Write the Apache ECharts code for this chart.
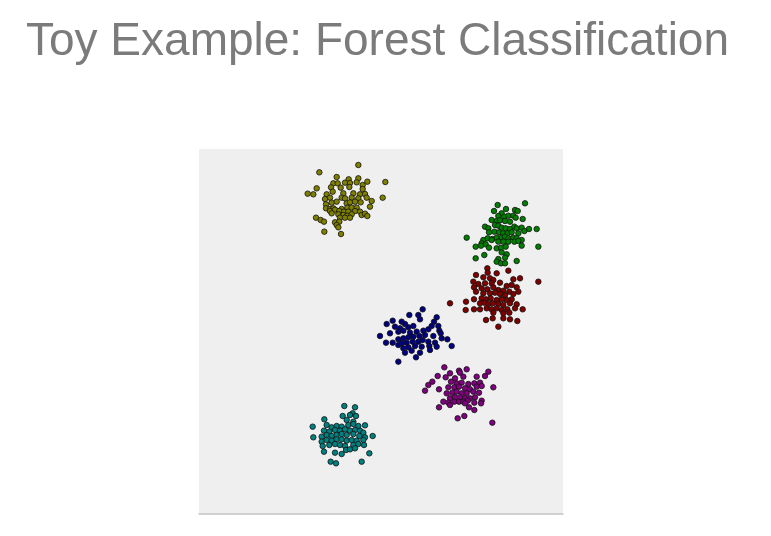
<!DOCTYPE html>
<html>
<head>
<meta charset="utf-8">
<script src="https://cdn.jsdelivr.net/npm/echarts@6/dist/echarts.min.js"></script>
<style>
html,body{margin:0;padding:0;background:#fff;}
#chart{width:771px;height:536px;}
</style>
</head>
<body>
<div id="chart"></div>
<script>
var titleText = 'Toy Example: Forest Classification';
var classNames = ['Class 1', 'Class 2', 'Class 3', 'Class 4', 'Class 5', 'Class 6'];
var classColors = ['#808000', '#008000', '#800000', '#000080', '#800080', '#008080'];

var olive = [[478,1047],[361,1025],[413,1011],[478,1007],[449,1004],[403,992],[416,992],[438,994],[453,993],[473,995],[491,987],[505,997],[559,996],[353,977],[396,980],[425,979],[451,981],[491,975],[326,961],[343,959],[383,959],[401,967],[433,962],[463,962],[483,959],[498,960],[378,945],[393,949],[428,949],[438,947],[458,949],[478,947],[503,949],[518,939],[551,949],[381,929],[398,934],[413,937],[443,932],[453,935],[468,937],[485,935],[381,917],[393,915],[403,917],[428,915],[445,919],[458,919],[473,919],[513,922],[393,909],[408,913],[421,909],[435,907],[448,907],[468,909],[483,907],[398,902],[418,899],[433,897],[445,895],[458,899],[488,897],[498,901],[505,894],[423,889],[438,889],[453,889],[351,889],[365,882],[375,877],[408,875],[421,877],[413,867],[418,860],[376,847],[426,840]];

var green = [[978,932],[896,927],[921,915],[948,912],[956,909],[885,909],[908,902],[898,894],[916,892],[928,895],[943,895],[950,889],[971,885],[878,882],[893,879],[903,881],[918,879],[933,877],[858,862],[868,857],[888,867],[898,865],[908,859],[920,857],[933,855],[946,862],[953,857],[968,859],[990,855],[1013,855],[976,849],[870,845],[886,847],[900,845],[913,842],[926,842],[938,845],[958,842],[803,829],[853,822],[866,827],[880,825],[893,829],[908,829],[918,832],[928,827],[943,829],[953,827],[968,822],[848,812],[860,809],[878,822],[898,817],[913,817],[928,817],[946,817],[958,819],[830,802],[846,805],[870,799],[893,797],[906,799],[920,802],[968,805],[1018,802],[908,785],[923,779],[856,777],[830,767],[898,765],[918,769],[953,759],[893,757],[906,752],[918,752]];

var maroon = [[865,737],[866,724],[928,730],[893,722],[831,717],[853,710],[873,707],[883,702],[943,704],[963,707],[1018,697],[823,697],[838,690],[858,692],[878,692],[903,694],[923,684],[938,687],[953,680],[825,680],[848,677],[865,674],[883,680],[898,672],[913,670],[931,667],[958,667],[831,667],[853,662],[873,662],[888,664],[903,660],[918,657],[943,660],[801,637],[825,644],[848,647],[861,644],[875,647],[893,642],[908,644],[923,642],[938,644],[800,612],[843,632],[856,634],[868,630],[881,632],[898,630],[913,627],[933,632],[953,629],[825,614],[843,614],[863,617],[878,614],[893,617],[908,612],[925,614],[948,617],[971,614],[883,604],[913,602],[931,604],[753,632],[861,582],[881,587],[913,587],[933,584],[955,579],[898,562]];

var navy = [[671,614],[631,597],[658,597],[581,580],[563,570],[608,577],[713,590],[705,577],[618,570],[663,584],[588,562],[603,557],[628,560],[643,564],[698,564],[718,564],[543,534],[573,542],[598,547],[613,550],[633,544],[653,547],[673,550],[688,554],[721,550],[725,542],[561,514],[581,514],[598,524],[613,527],[628,530],[643,532],[661,534],[678,537],[703,534],[728,527],[745,524],[598,507],[608,512],[623,514],[641,517],[658,517],[671,522],[688,517],[708,514],[613,497],[628,500],[648,504],[668,502],[691,504],[713,502],[758,504],[618,484],[638,490],[663,484],[693,492],[651,470],[598,457]];

var purple = [[736,440],[780,430],[803,434],[716,414],[753,422],[783,424],[868,427],[700,397],[688,387],[740,410],[768,407],[793,412],[833,412],[858,414],[678,370],[720,374],[756,397],[773,392],[788,394],[808,390],[826,392],[843,394],[748,380],[766,380],[780,382],[798,377],[813,374],[833,382],[848,384],[883,380],[743,362],[760,364],[773,367],[788,362],[803,362],[823,367],[840,364],[753,347],[768,350],[783,350],[798,347],[813,347],[828,350],[733,337],[748,334],[766,337],[780,337],[793,337],[806,340],[826,334],[848,340],[720,320],[753,327],[798,332],[846,332],[810,320],[826,312],[776,287],[796,294],[880,274]];

var teal = [[436,324],[468,320],[431,294],[461,302],[453,297],[471,294],[376,284],[443,282],[463,277],[341,262],[383,267],[398,260],[413,264],[428,262],[448,267],[463,270],[478,264],[498,266],[375,250],[391,247],[408,252],[423,250],[438,254],[453,250],[468,252],[483,250],[493,244],[343,230],[368,232],[383,237],[398,234],[413,237],[428,240],[443,237],[463,240],[481,234],[498,230],[521,234],[368,217],[383,222],[398,220],[413,224],[428,224],[443,220],[458,222],[473,220],[493,222],[371,204],[391,207],[408,210],[423,207],[438,204],[463,207],[478,210],[495,207],[375,187],[408,184],[428,180],[441,192],[453,194],[468,197],[395,157],[411,152],[488,157],[511,182]];

var classData = [olive, green, maroon, navy, purple, teal];
var xRange = [0, 1092];
var yRange = [0, 1095];

var chart = echarts.init(document.getElementById('chart'), null, {renderer: 'canvas'});
var series = classData.map(function (d, i) {
  return {
    name: classNames[i],
    type: 'scatter',
    data: d,
    symbol: 'circle',
    symbolSize: 5.5,
    itemStyle: {color: classColors[i], borderColor: '#111', borderWidth: 0.8, opacity: 1},
    emphasis: {disabled: true},
    animation: false
  };
});
chart.setOption({
  backgroundColor: '#ffffff',
  animation: false,
  title: {
    text: titleText,
    left: 21,
    top: 14,
    textStyle: {fontFamily: 'Liberation Sans, Arial, sans-serif', fontSize: 46, fontWeight: 'normal', color: '#7b7b7b'}
  },
  grid: {left: 199, top: 149, width: 364, height: 365, show: true, backgroundColor: '#efefef', borderWidth: 0},
  xAxis: {
    type: 'value', min: xRange[0], max: xRange[1],
    axisLine: {show: true, lineStyle: {color: '#c4c4c4', width: 1.5}},
    axisTick: {show: false}, axisLabel: {show: false}, splitLine: {show: false}
  },
  yAxis: {
    type: 'value', min: yRange[0], max: yRange[1],
    axisLine: {show: false}, axisTick: {show: false}, axisLabel: {show: false}, splitLine: {show: false}
  },
  series: series
});
</script>
</body>
</html>
